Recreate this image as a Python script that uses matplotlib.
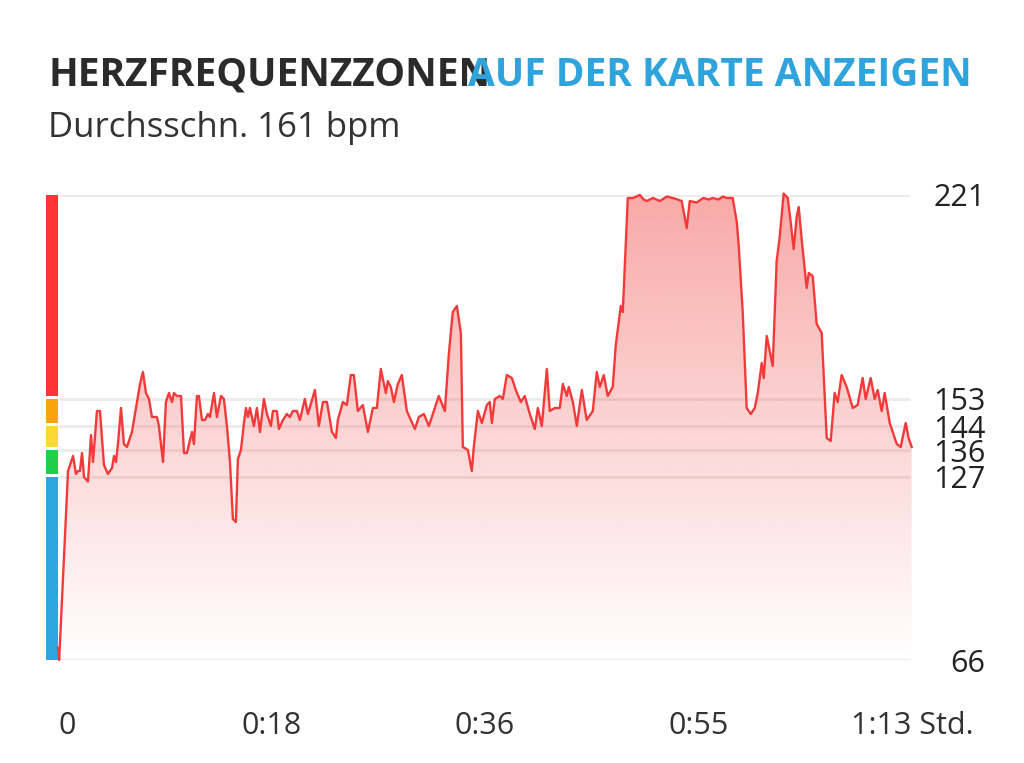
import numpy as np
import matplotlib.pyplot as plt
from matplotlib.patches import Rectangle, Polygon
import matplotlib.transforms as mtransforms

# heart rate samples (minutes, bpm)
minutes = [0.0, 0.1, 0.86, 1.2, 1.29, 1.54, 1.71, 1.88, 2.06, 2.23, 2.57, 2.83, 3.0, 3.34, 3.6,
           3.94, 4.28, 4.63, 4.8, 4.97, 5.14, 5.4, 5.65, 5.91, 6.34, 6.77, 7.03, 7.28, 7.54, 7.8,
           8.05, 8.48, 8.65, 9.0, 9.25, 9.51, 9.77, 9.94, 10.2, 10.54, 10.8, 11.05, 11.48, 11.65,
           11.91, 12.08, 12.34, 12.59, 12.85, 13.02, 13.37, 13.62, 13.97, 14.22, 14.48, 14.74,
           14.99, 15.25, 15.42, 15.68, 15.94, 16.11, 16.28, 16.45, 16.79, 17.05, 17.31, 17.65,
           17.91, 18.25, 18.42, 18.76, 18.94, 19.28, 19.62, 19.88, 20.13, 20.48, 20.73, 21.16,
           21.42, 22.02, 22.36, 22.71, 23.05, 23.48, 23.82, 23.99, 24.42, 24.76, 25.1, 25.36,
           25.7, 26.13, 26.56, 26.99, 27.33, 27.67, 28.1, 28.27, 28.53, 28.79, 29.13, 29.47,
           29.9, 30.59, 30.93, 31.36, 31.79, 32.3, 32.64, 33.16, 33.5, 33.84, 34.19, 34.53,
           34.7, 35.13, 35.47, 35.64, 35.99, 36.33, 36.76, 37.01, 37.19, 37.44, 37.87, 38.13,
           38.47, 38.9, 39.24, 39.67, 40.01, 40.44, 40.87, 41.13, 41.47, 41.9, 42.15, 42.58,
           43.01, 43.27, 43.61, 43.78, 44.13, 44.47, 44.9, 45.32, 45.84, 46.18, 46.44, 46.78,
           47.12, 47.55, 47.81, 48.24, 48.41, 48.84, 49.27, 49.87, 50.2, 50.47, 51.0, 51.58,
           52.2, 52.69, 53.1, 53.46, 53.89, 54.15, 54.75, 55.3, 55.8, 56.12, 56.6, 57.0, 57.32,
           57.83, 58.18, 58.35, 58.69, 59.03, 59.38, 59.72, 59.98, 60.32, 60.49, 60.75, 61.26,
           61.6, 61.86, 62.2, 62.55, 62.8, 63.06, 63.32, 63.49, 63.75, 64.17, 64.35, 64.69,
           65.03, 65.46, 65.72, 65.89, 66.23, 66.57, 66.83, 67.17, 67.6, 68.12, 68.54, 68.97,
           69.23, 69.66, 70.0, 70.26, 70.6, 70.86, 71.29, 71.89, 72.23, 72.66, 72.91, 73.17]
bpm = [70, 66, 129, 133, 134, 128, 129, 129, 135, 127, 125.5, 141, 132, 149, 149,
       131, 128, 130, 134, 132, 138, 150, 138, 137, 142, 152, 158, 162, 155, 153,
       147, 147, 144, 132, 152, 155, 152, 155, 154, 154, 135, 135, 142, 138,
       154, 154, 146, 146, 148, 147, 155, 147, 154, 153, 144, 132,
       113, 112, 133, 136, 145, 150, 147, 150, 144, 150, 142, 153,
       148, 144, 149, 149, 143, 146, 148, 147, 149, 149, 146, 153,
       148, 156, 144, 152, 152, 142, 140, 146, 152, 151, 161, 161,
       149, 151, 142, 150, 150, 163, 155, 159, 157, 152, 158, 161,
       149, 143, 147, 148, 144, 150, 154, 149, 168, 182, 184, 175,
       137, 136, 129, 137, 149, 145, 151, 152, 145, 153, 154, 153,
       161, 160, 156, 152, 154, 148, 143, 150, 144, 163, 149, 150,
       150, 158, 154, 157, 152, 144, 156, 146, 149, 162, 157, 161,
       154, 157, 171, 184, 182, 220, 220, 221, 219.5, 219, 220, 219,
       220.5, 220, 219.5, 219, 210, 219, 218.5, 220, 219.5, 220, 219.5, 220.5, 220,
       220, 212, 204, 182, 150, 148, 150, 155, 165, 160, 174, 164,
       199, 207, 221.5, 220, 212, 203, 214, 217, 206, 190, 195, 194,
       178, 175, 154, 140, 139, 155, 152, 161, 157, 150, 151, 160,
       153, 160, 153, 156, 149, 155, 145, 138, 137, 145, 140, 137]

zone_limits = [66, 127, 136, 144, 153, 221]
zone_colors = ['#2ea6df', '#1fcf4b', '#fbd932', '#f9a30f', '#ff3434']
x_ticks = [0, 18.3, 36.6, 54.9, 73.2]
x_labels = ['0', '0:18', '0:36', '0:55', '1:13 Std.']

fig = plt.figure(figsize=(10.24, 7.63), dpi=100)
ax = fig.add_axes([58 / 1024, 103 / 763, 854 / 1024, 465 / 763])
ax.set_xlim(0, 73.2)
ax.set_ylim(66, 221)

# light grid at the zone limits
ax.hlines(zone_limits, 0, 73.0, color='#ebebeb', lw=2, zorder=0)

# gradient fill under the curve
grad = np.zeros((256, 2, 4))
grad[:, :, 0] = 240 / 255
grad[:, :, 1] = 70 / 255
grad[:, :, 2] = 65 / 255
grad[:, :, 3] = np.linspace(0.46, 0.0, 256)[:, None]
img = ax.imshow(grad, extent=[0, 73.2, 66, 221], aspect='auto', origin='upper', zorder=1)
verts = [(minutes[0], 66)] + list(zip(minutes, bpm)) + [(minutes[-1], 66)]
poly = Polygon(verts, closed=True, facecolor='none', edgecolor='none')
ax.add_patch(poly)
img.set_clip_path(poly)

ax.plot(minutes, bpm, color='#f23a3a', lw=1.7, zorder=3, clip_on=False)

# zone colour bar left of the plot
trans = mtransforms.blended_transform_factory(ax.transAxes, ax.transData)
for i, c in enumerate(zone_colors):
    lo = zone_limits[i] + (1 if i > 0 else 0)
    hi = zone_limits[i + 1]
    ax.add_patch(Rectangle((-12 / 854, lo), 11.5 / 854, hi - lo, transform=trans,
                           facecolor=c, edgecolor='none', clip_on=False))

for s in ax.spines.values():
    s.set_visible(False)

ax.yaxis.tick_right()
ax.set_yticks(zone_limits)
ax.set_yticklabels([str(v) for v in zone_limits])
ax.tick_params(axis='y', length=0, pad=53, labelsize=22, labelcolor='#222222')
for lab in ax.get_yticklabels():
    lab.set_horizontalalignment('right')
    lab.set_fontfamily('Open Sans')

ax.set_xticks(x_ticks)
ax.set_xticklabels(x_labels)
ax.tick_params(axis='x', length=0, pad=37, labelsize=22, labelcolor='#333333')
for lab in ax.get_xticklabels():
    lab.set_fontfamily('Open Sans')
ax.get_xticklabels()[0].set_horizontalalignment('left')

fig.text(48 / 1024, 1 - 86 / 763, 'HERZFREQUENZZONEN', fontsize=28, fontweight='bold',
         color='#2b2b2b', family='Open Sans', va='baseline')
fig.text(468 / 1024, 1 - 86 / 763, 'AUF DER KARTE ANZEIGEN', fontsize=28, fontweight='bold',
         color='#2ea3dc', family='Open Sans', va='baseline')
fig.text(48 / 1024, 1 - 137 / 763, 'Durchsschn. 161 bpm', fontsize=25,
         color='#333333', family='Open Sans', va='baseline')

fig.savefig('out.png', dpi=100)
